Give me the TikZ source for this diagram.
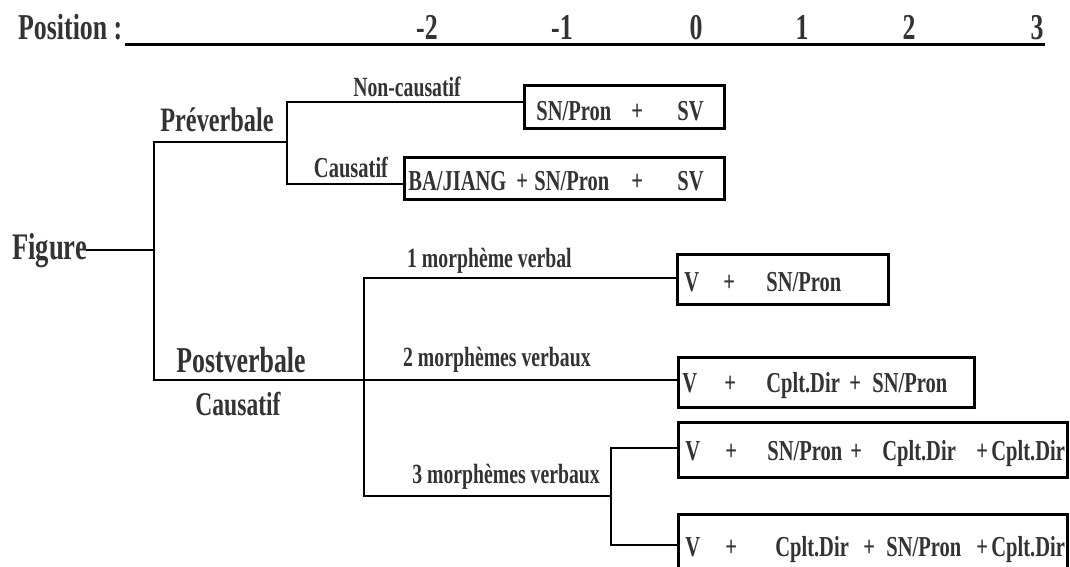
\documentclass[tikz,border=0pt]{standalone}
\usepackage{fontspec}
\setmainfont{Liberation Serif}[FakeStretch=0.71]
\definecolor{txt}{gray}{0.2}
\newcommand\tk[2]{\rlap{\hspace*{#1pt}#2}}
\tikzset{
  fs/.style={font=\fontsize{#1}{#1}\selectfont\bfseries, text=txt, inner sep=0pt},
  ln/.style={line width=2.7pt, line cap=rect},
  bx/.style n args={3}{draw, line width=2.7pt, inner sep=0pt, anchor=north west,
     text height=#2pt, text depth=#3pt, font=\fontsize{28.9}{29}\selectfont\bfseries, text=txt},
}
\begin{document}
\begin{tikzpicture}[x=1pt,y=-1pt]
\useasboundingbox (0,0) rectangle (1070,566);
\fill[white] (0,0) rectangle (1070,566);
% header
\node[fs=36.4, anchor=base west] (pos) at (18,39) {Position :};
\node[fs=36.4, anchor=base] (nm2) at (427,39) {-2};
\node[fs=36.4, anchor=base] (nm1) at (562,39) {-1};
\node[fs=36.4, anchor=base] (n0) at (696,39) {0};
\node[fs=36.4, anchor=base] (n1) at (802,39) {1};
\node[fs=36.4, anchor=base] (n2) at (909,39) {2};
\node[fs=36.4, anchor=base] (n3) at (1037,39) {3};
\coordinate (ulend) at (1045,44);
\draw[line width=3pt] ([xshift=3pt]pos.base east |- ulend) -- (ulend);
% labels
\node[fs=37.5, anchor=base west] (fig) at (12,259) {Figure};
\node[fs=34.2, anchor=base] (pre) at (217,131) {Préverbale};
\node[fs=27.8, anchor=base] (ncaus) at (407,96) {Non-causatif};
\node[fs=28.9, anchor=base] (caus1) at (351,177) {Causatif};
\node[fs=36.4, anchor=base] (post) at (241,372) {Postverbale};
\node[fs=33.2, anchor=base] (caus2) at (238,415) {Causatif};
\node[fs=27.8, anchor=base west] (m1) at (407,267) {1 morphème verbal};
\node[fs=27.8, anchor=base west] (m2) at (403,366) {2 morphèmes verbaux};
\node[fs=27.8, anchor=base east] (m3) at (600,483) {3 morphèmes verbaux};
% boxes
\node[bx={0}{35}{8}] (b1) at (523,84) {\makebox[200pt][l]{\tk{12}{SN/Pron}\tk{107}{+}\tk{153}{SV}}};
\node[bx={0}{33}{9}] (b2) at (403,156) {\makebox[320pt][l]{\tk{4}{BA/JIANG}\tk{112}{+}\tk{130}{SN/Pron}\tk{227}{+}\tk{273}{SV}}};
\node[bx={0}{37}{13}] (b3) at (676,253) {\makebox[211pt][l]{\tk{7}{V}\tk{46}{+}\tk{89}{SN/Pron}}};
\node[bx={0}{35}{15}] (b4) at (677,356) {\makebox[296pt][l]{\tk{4}{V}\tk{46}{+}\tk{88}{Cplt.Dir}\tk{171}{+}\tk{194}{SN/Pron}}};
\node[bx={0}{38}{17}] (b5) at (677,421) {\makebox[389pt][l]{\tk{7}{V}\tk{47}{+}\tk{89}{SN/Pron}\tk{172}{+}\tk{204}{Cplt.Dir}\tk{298}{+}\tk{313}{Cplt.Dir}}};
\node[bx={0}{42}{20}] (b6) at (677,513) {\makebox[389pt][l]{\tk{7}{V}\tk{47}{+}\tk{97}{Cplt.Dir}\tk{185}{+}\tk{208}{SN/Pron}\tk{298}{+}\tk{313}{Cplt.Dir}}};
% tree
\coordinate (r) at (154,250);
\coordinate (pA) at (154,142);
\coordinate (pB) at (154,380);
\coordinate (f1) at (287,142);
\coordinate (f1t) at (287,102);
\coordinate (f1b) at (287,184);
\coordinate (f2t) at (364,278);
\coordinate (f2b) at (364,496);
\coordinate (f3) at (611,496);
\coordinate (f3t) at (611,448);
\coordinate (f3b) at (611,545);
\draw[ln] (fig.east |- r) -- (r);
\draw[ln] (pA) -- (pB);
\draw[ln] (pA) -- (f1);
\draw[ln] (f1t) -- (f1b);
\draw[ln] (f1t) -- (f1t -| b1.west);
\draw[ln] (f1b) -- (f1b -| b2.west);
\draw[ln] (pB) -- (pB -| b4.west);
\draw[ln] (f2t) -- (f2b);
\draw[ln] (f2t) -- (f2t -| b3.west);
\draw[ln] (f2b) -- (f3);
\draw[ln] (f3t) -- (f3b);
\draw[ln] (f3t) -- (f3t -| b5.west);
\draw[ln] (f3b) -- (f3b -| b6.west);
\end{tikzpicture}
\end{document}
